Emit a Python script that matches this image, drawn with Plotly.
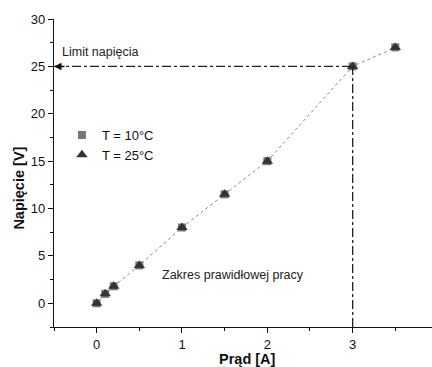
import plotly.graph_objects as go

current = [0, 0.1, 0.2, 0.5, 1, 1.5, 2, 3, 3.5]
voltage_10 = [0, 1, 1.8, 4, 8, 11.5, 15, 25, 27]
voltage_25 = [0, 1, 1.8, 4, 8, 11.5, 15, 25, 27]
limit_v = 25
limit_a = 3

FONT = "Liberation Sans, Arial"

fig = go.Figure()
fig.add_trace(go.Scatter(x=current, y=voltage_10, mode="lines", showlegend=False,
                         line=dict(color="#888", width=1, dash="dot"), hoverinfo="skip"))
fig.add_trace(go.Scatter(x=current, y=voltage_10, mode="markers", name="T = 10°C",
                         marker=dict(symbol="square", size=8, color="#777")))
fig.add_trace(go.Scatter(x=current, y=voltage_25, mode="markers", name="T = 25°C",
                         marker=dict(symbol="triangle-up", size=10, color="#333")))

fig.add_shape(type="line", x0=-0.5, x1=limit_a, y0=limit_v, y1=limit_v, xref="x", yref="y",
              line=dict(color="#222", width=1.3, dash="dashdot"))
fig.add_shape(type="line", x0=limit_a, x1=limit_a, y0=-2.5, y1=limit_v, xref="x", yref="y",
              line=dict(color="#222", width=1.3, dash="dashdot"))
fig.add_annotation(x=-0.5, y=limit_v, ax=12, ay=0, text="", showarrow=True,
                   arrowhead=2, arrowsize=1, arrowwidth=1.5, arrowcolor="#111")
fig.add_annotation(x=-0.43, y=26.5, text="Limit napięcia", showarrow=False, xanchor="left",
                   font=dict(size=12.5, color="#222"))
fig.add_annotation(x=0.74, y=3.0, text="Zakres prawidłowej pracy", showarrow=False, xanchor="left",
                   font=dict(size=12.5, color="#222"))
# axis titles placed as annotations to match reference position
fig.add_annotation(xref="paper", yref="paper", x=-0.092, y=0.45, text="<b>Napięcie [V]</b>",
                   textangle=-90, showarrow=False, xanchor="center", yanchor="middle",
                   font=dict(size=14.5, color="#111"))
fig.add_annotation(xref="paper", yref="paper", x=0.513, y=-0.103, text="<b>Prąd [A]</b>",
                   showarrow=False, xanchor="center", yanchor="middle",
                   font=dict(size=14.5, color="#111"))

fig.update_layout(
    width=432, height=367,
    margin=dict(l=54, r=0, t=19, b=40),
    plot_bgcolor="white", paper_bgcolor="white",
    font=dict(family=FONT, color="#111", size=13),
    legend=dict(x=0.021, y=0.672, xanchor="left", yanchor="top", bgcolor="rgba(0,0,0,0)",
                font=dict(size=13), itemwidth=30, tracegroupgap=0),
    showlegend=True,
)
fig.update_xaxes(range=[-0.5, 3.93], tickvals=[0, 1, 2, 3], showgrid=False, zeroline=False,
                 automargin=False,
                 showline=True, linecolor="#111", linewidth=1.2, ticks="outside", ticklen=5,
                 tickcolor="#111", minor=dict(dtick=0.5, ticks="outside", ticklen=3, tickcolor="#111"))
fig.update_yaxes(range=[-2.5, 30], tickvals=[0, 5, 10, 15, 20, 25, 30], showgrid=False, zeroline=False,
                 automargin=False,
                 showline=True, linecolor="#111", linewidth=1.2, ticks="outside", ticklen=5,
                 tickcolor="#111", minor=dict(dtick=2.5, ticks="outside", ticklen=3, tickcolor="#111"))

fig.write_html("out.html", config={"displayModeBar": False},
               post_script="document.body.style.margin='0';")
